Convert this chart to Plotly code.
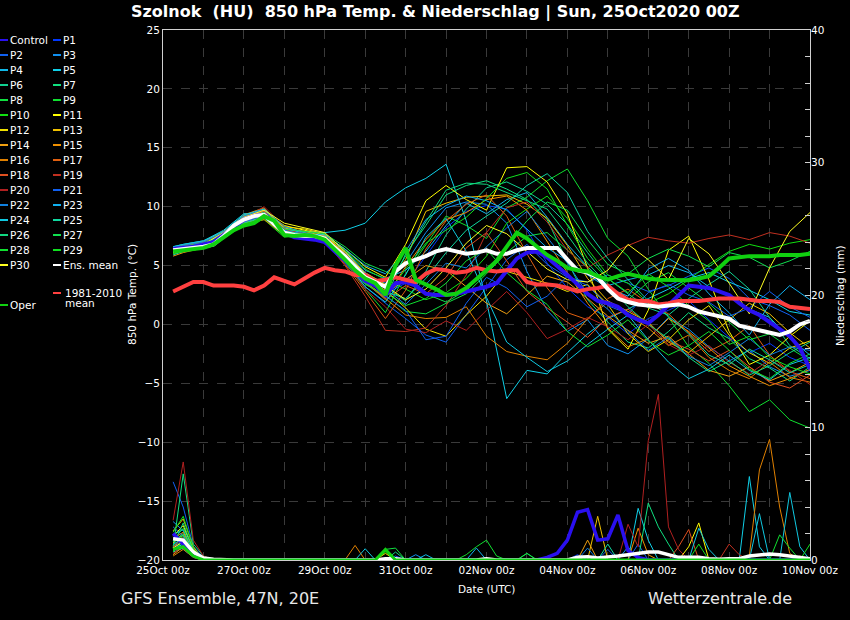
import datetime as dt
import plotly.graph_objects as go

# ---------------- data ----------------
BASE = dt.datetime(2020, 10, 25, 0)
HOURS_6 = list(range(6, 385, 6))                 # 64 steps for key curves & precipitation
HOURS_M = [6] + list(range(12, 385, 12))          # 33 steps for ensemble members (temperature)

MEMBER_NAMES = [f"P{i}" for i in range(1, 31)]
MEMBER_COLORS = ["#0038ff", "#1060f0", "#1090f0", "#10b8e8", "#10d0e8", "#10d090", "#10e080",
                 "#10e040", "#10e030", "#10e010", "#ffff00", "#f0e000", "#f0c000", "#f0a010",
                 "#f09000", "#e08000", "#e06010", "#e05020", "#c03020", "#b02020", "#1060f0",
                 "#1080e0", "#10b0f0", "#10c8e0", "#10d8a0", "#10d880", "#10e050", "#10e030",
                 "#10e020", "#ffff20"]

T_MEMBERS = [
    [6.2,6.5,6.9,7.8,9.1,9.5,7.6,7.4,7.2,5.6,3.8, 2.6,3.5,5.8,8.2,9.6,10.1,9.8,8.0,5.2,3.1,1.5,0.6,-0.8,0.5,1.2,2.0,0.4,-1.1,-2.4,-1.6,-2.8,-3.5],
    [6.0,6.3,6.6,7.5,8.8,9.4,7.9,7.6,7.0,5.2,3.2, 1.8,0.5,-0.9,-1.5,0.8,3.2,5.5,6.8,5.1,4.0,3.6,4.2,3.5,2.8,3.3,4.1,4.8,3.9,2.2,1.6,0.8,-0.5],
    [6.5,6.6,6.8,7.7,9.2,9.8,8.2,7.7,7.4,5.9,4.3, 3.5,5.2,7.8,9.9,10.4,10.2,8.6,4.5,1.2,-0.6,0.4,-1.8,-2.5,-1.2,0.6,-0.4,-1.9,-3.1,-2.2,-3.6,-4.4,-3.9],
    [6.4,6.7,7.0,7.9,9.0,9.6,8.1,7.8,7.5,6.2,4.6, 3.9,4.6,6.2,8.4,10.3,9.4,10.6,11.2,9.1,6.8,4.9,3.3,3.8,4.2,5.0,4.4,3.2,2.4,1.3,0.6,-1.2,-2.6],
    [6.6,6.8,7.1,8.0,9.4,9.5,8.0,7.9,7.8,8.0,8.6, 10.4,11.6,12.4,13.6,8.8,2.0,-6.3,-3.9,-4.2,-2.4,-0.8,0.5,1.3,2.2,3.0,3.9,4.4,3.6,2.9,2.1,1.1,0.8],
    [6.1,6.4,6.8,7.6,8.8,9.2,7.7,7.5,7.4,6.0,4.2, 3.2,2.0,4.5,7.6,9.8,11.6,12.1,11.3,10.2,8.5,6.1,3.9,2.6,1.4,0.8,2.2,3.4,4.5,3.0,0.6,-1.8,-2.9],
    [6.3,6.5,6.7,7.5,8.7,9.1,7.9,7.6,7.3,5.5,3.5, 2.2,6.0,8.4,11.0,11.8,12.2,11.5,10.6,8.9,5.3,2.1,0.2,-1.5,-2.0,-0.6,1.0,-0.3,-1.2,-2.9,-3.7,-4.8,-3.6],
    [6.2,6.4,6.6,7.4,8.6,9.0,7.5,7.6,7.2,5.4,3.4, 2.5,1.1,0.9,1.8,2.6,4.3,6.1,7.5,7.8,6.3,4.9,3.0,2.1,3.6,4.4,3.1,1.8,0.2,-1.3,-0.8,-2.0,-3.1],
    [6.4,6.6,6.9,7.8,9.0,9.4,7.8,7.4,7.1,5.3,3.0, 1.0,4.3,6.7,9.2,8.4,7.3,9.9,10.8,12.2,13.2,10.5,7.3,5.8,3.0,0.6,-1.9,-3.3,-5.2,-7.4,-6.4,-8.1,-8.8],
    [6.0,6.2,6.5,7.3,8.5,8.9,7.4,7.7,7.6,6.3,4.7, 3.8,3.0,2.1,2.7,3.9,5.8,8.6,9.8,10.9,9.0,6.4,4.2,3.5,1.8,2.6,3.8,5.1,6.2,6.8,6.4,6.9,7.2],
    [6.2,6.5,6.8,7.7,8.9,9.6,8.4,8.0,7.6,6.4,4.9, 4.0,6.8,10.5,11.8,10.6,9.7,13.3,13.4,12.1,9.4,4.8,-0.4,-2.1,1.2,6.3,7.5,3.8,-0.6,-3.4,-2.6,-1.0,0.3],
    [6.0,6.2,6.6,7.5,8.7,9.2,8.3,8.1,7.7,6.0,3.9, 2.9,1.4,-0.4,-1.0,0.8,2.4,4.5,4.0,3.5,2.8,3.4,1.7,-0.8,-2.3,-1.3,0.4,1.6,-0.9,-2.4,-3.3,-2.0,-1.4],
    [6.5,6.7,7.0,7.9,9.2,9.7,8.2,7.9,7.5,6.1,4.4, 3.4,5.5,9.6,10.3,10.8,10.9,11.0,10.2,9.0,6.7,3.9,2.0,1.1,0.2,-1.5,-2.4,-1.0,0.4,1.8,0.9,-0.7,-2.0],
    [5.8,6.1,6.5,7.4,8.6,9.1,7.8,7.7,7.5,6.0,4.0, 2.6,3.8,5.0,4.6,3.2,1.8,0.9,2.5,4.1,3.6,2.2,0.7,-0.5,-1.6,-1.0,-2.5,-3.9,-4.4,-3.6,-4.8,-4.1,-3.2],
    [6.3,6.6,6.9,7.8,9.3,9.9,8.0,7.5,7.3,5.7,3.6, 2.3,4.9,7.2,8.9,9.5,10.6,10.9,9.7,7.0,4.4,1.8,-0.3,-1.9,-1.2,0.5,-0.6,-2.0,-3.5,-4.4,-5.2,-4.6,-3.8],
    [6.1,6.3,6.6,7.3,8.5,8.9,7.6,7.3,7.0,5.5,3.7, 2.2,0.8,0.5,0.6,1.5,-1.0,-2.3,-2.7,-3.0,-1.6,0.5,1.9,0.8,-0.3,-1.8,-0.9,-2.8,-3.9,-4.6,-3.2,-4.5,-4.9],
    [6.2,6.5,6.8,7.6,8.9,9.5,7.9,7.4,7.1,5.1,2.8, 0.5,2.9,6.4,8.8,10.2,11.0,9.2,6.0,3.1,1.0,0.4,2.2,3.0,1.8,0.9,-0.7,-2.3,-1.4,-0.1,-2.6,-4.0,-4.6],
    [6.4,6.6,6.9,7.9,9.1,9.6,8.1,7.6,7.2,5.6,3.6, 2.1,3.3,2.6,4.0,6.5,7.8,5.4,2.8,1.4,0.2,-1.1,0.6,1.3,0.1,-1.4,-2.1,-3.1,-2.2,-3.6,-4.9,-5.4,-4.3],
    [6.0,6.3,6.7,7.6,8.8,9.4,8.0,7.7,7.1,5.0,2.4, -0.5,-0.6,-0.3,1.6,4.2,7.8,9.9,10.4,8.7,6.3,4.8,5.9,6.7,7.4,7.1,6.9,7.3,7.6,7.2,7.8,7.5,6.9],
    [6.3,6.5,6.9,7.7,9.0,10.0,8.3,7.8,7.3,5.4,3.0, 1.5,-0.4,-0.7,0.3,-0.5,1.2,2.8,1.0,-1.2,-0.4,0.6,-0.2,-1.3,0.0,-1.7,-2.6,-1.8,-3.2,-4.2,-3.0,-3.9,-5.1],
    [6.1,6.3,6.7,7.5,8.7,9.2,7.6,7.3,7.0,5.7,3.9, 2.4,1.2,-1.3,-1.0,1.8,4.0,3.1,1.5,2.4,4.1,3.3,1.6,0.9,2.7,3.4,2.5,1.9,0.7,1.4,2.8,1.5,0.6],
    [6.5,6.7,7.0,7.8,9.2,9.7,8.0,7.6,7.2,6.0,4.4, 3.0,1.7,3.4,5.2,4.8,6.6,8.2,9.6,7.4,5.2,2.6,1.3,-0.6,-2.2,-1.1,-2.7,-3.5,-2.4,-1.2,-2.6,-1.9,-2.2],
    [6.2,6.5,6.8,7.7,9.0,9.5,7.9,7.7,7.6,6.4,5.0, 4.3,6.2,8.9,10.1,10.9,10.5,9.7,8.1,6.5,5.4,4.2,3.1,2.4,4.7,5.6,4.6,2.6,1.0,-0.9,1.7,3.3,2.1],
    [6.6,6.8,7.1,7.9,9.3,9.8,8.3,7.8,7.2,5.5,3.2, 1.9,4.2,7.4,9.0,6.2,2.3,-1.5,-2.8,-4.0,-3.1,-1.7,-0.4,0.8,-1.3,-3.2,-4.6,-3.8,-2.6,-3.9,-4.7,-3.4,-2.8],
    [5.9,6.2,6.6,7.4,8.6,9.1,7.7,7.5,7.2,5.8,3.8, 2.8,2.2,3.9,6.1,8.0,9.2,10.3,11.8,12.8,11.2,7.9,5.6,3.8,2.0,0.7,-0.8,-2.6,-3.4,-2.1,-3.0,-4.1,-3.4],
    [6.3,6.5,6.8,7.6,8.8,9.3,7.8,7.5,7.3,5.9,4.1, 3.1,5.8,8.7,11.4,12.0,11.9,11.2,10.5,9.8,7.6,5.2,3.4,1.5,0.0,-1.2,-2.8,-4.0,-3.1,-4.3,-3.5,-2.4,-1.5],
    [6.4,6.6,6.9,7.7,9.0,9.4,8.1,7.9,7.7,6.6,5.2, 4.5,3.7,2.6,1.9,2.9,4.5,6.7,8.8,10.4,9.7,7.2,5.1,4.3,5.6,6.4,5.8,4.9,6.1,5.7,4.8,5.4,6.2],
    [6.2,6.4,6.7,7.5,8.8,9.3,7.7,7.6,7.4,5.9,3.9, 2.7,1.6,2.2,3.5,5.4,6.4,4.4,2.9,1.7,-0.6,-1.9,-0.9,0.4,-1.4,-2.6,-1.8,-0.6,-2.2,-3.8,-4.6,-3.3,-2.5],
    [6.0,6.3,6.7,7.6,8.9,9.5,7.9,7.6,7.2,5.6,3.5, 2.4,4.7,6.9,8.0,9.1,10.7,12.4,12.9,11.5,8.4,5.6,3.9,2.7,4.3,3.2,1.6,0.3,-1.7,-1.0,-2.8,-3.6,-4.2],
    [6.1,6.4,6.8,7.8,9.1,9.7,8.6,8.2,7.8,6.2,4.3, 3.3,2.1,3.0,4.8,6.9,8.4,7.7,6.2,4.7,3.8,3.6,4.6,6.8,5.5,3.8,7.3,6.0,3.5,0.9,4.8,7.9,9.5],
]

T_CONTROL = [6.4, 6.5, 6.6, 6.8, 7.0, 7.6, 8.3, 8.9,
             9.2, 9.3, 8.6, 7.8, 7.4, 7.3, 7.2, 7.0,
             6.2, 5.5, 4.6, 3.7, 3.3, 2.5, 3.5, 3.6,
             3.3, 2.6, 2.5, 2.5, 2.6, 2.8, 3.0, 3.2,
             3.5, 4.6, 5.6, 6.1, 6.2, 5.7, 5.0, 4.2,
             3.4, 2.6, 2.0, 1.8, 1.5, 0.8, 0.4, 0.1,
             0.8, 1.6, 2.5, 3.3, 3.2, 3.1, 2.8, 2.5,
             1.8, 1.2, 0.8, 0.2, -0.4, -1.0, -2.0, -3.8]
T_MEAN = [6.3, 6.4, 6.5, 6.6, 6.8, 7.5, 8.4, 8.9,
          9.2, 9.3, 8.5, 7.8, 7.6, 7.5, 7.5, 7.3,
          6.5, 5.8, 4.9, 4.0, 3.6, 3.2, 4.5, 5.2,
          5.5, 5.8, 6.2, 6.4, 6.2, 6.0, 6.1, 6.3,
          6.0, 6.0, 6.3, 6.5, 6.5, 6.5, 6.5, 5.5,
          4.6, 4.4, 4.0, 3.0, 2.2, 1.9, 1.7, 1.6,
          1.5, 1.6, 1.7, 1.5, 1.1, 0.9, 0.7, 0.5,
          -0.1, -0.3, -0.5, -0.7, -0.9, -0.6, 0.0, 0.3]
T_CLIMATE = [2.8, 3.2, 3.6, 3.6, 3.3, 3.3, 3.3, 3.2,
             2.9, 3.3, 4.0, 3.7, 3.4, 3.9, 4.4, 4.8,
             4.6, 4.5, 4.2, 4.2, 3.7, 3.8, 4.0, 3.8,
             3.6, 4.3, 4.7, 4.6, 4.4, 4.5, 4.8, 4.6,
             4.5, 4.6, 4.6, 3.6, 3.4, 3.4, 3.3, 3.1,
             2.8, 3.0, 3.1, 3.3, 2.6, 2.1, 2.0, 2.0,
             1.7, 1.8, 2.0, 2.0, 2.0, 2.1, 2.2, 2.2,
             2.2, 2.1, 2.0, 2.0, 1.9, 1.5, 1.4, 1.3]
T_OPER = [6.2, 6.3, 6.4, 6.5, 6.8, 7.4, 8.0, 8.4,
          8.6, 9.2, 8.8, 7.6, 7.5, 7.6, 7.5, 7.2,
          6.4, 5.5, 4.6, 3.9, 3.5, 2.5, 5.0, 6.5,
          3.8, 3.4, 3.0, 2.5, 2.6, 3.1, 3.8, 4.6,
          5.4, 6.6, 7.8, 7.3, 6.6, 5.9, 5.4, 4.8,
          4.6, 4.5, 4.1, 3.8, 4.1, 4.3, 4.1, 3.9,
          3.8, 3.8, 3.75, 3.75, 3.9, 4.1, 4.8, 5.6,
          5.7, 5.8, 5.8, 5.8, 5.9, 5.9, 5.9, 6.0]

# precipitation (mm / 6h) on HOURS_6
P_MEMBERS = [
    [1.2,0.8,0.2,0,0,0,0,0,0,0,0,0,0,0,0,0, 0,0,0,0,0,0,0,0,0,0,0,0,0,0,0,0, 0,0,0,0,0,0,0,0,0.4,0,0,0,0,0,0,0, 0,0,0,0,0,0,0,0,0,0,0,0,0,0,0,0],
    [5.9,4.0,1.0,0.2,0,0,0,0,0,0,0,0,0,0,0,0, 0,0,0,0,0,0,0,0,0,0,0,0,0,0,0,0, 0,0,0,0,0,0,0,0,0,0,0,0.8,0,0,1.2,0, 0,0,0,0,0,0,0,0,0,0,0,0,0,0,0,0],
    [2.9,2.2,0.6,0,0,0,0,0,0,0,0,0,0,0,0,0, 0,0,0,0,0,0,0,0,0.4,0,0,0,0,0,0,0, 0,0,0,0,0,0,0,0,0,0,0,0,0,1.0,0,0, 0,0,0,0,0,0,0,0,0,0,0,0,0,0,0,0],
    [1.0,1.5,0.5,0,0,0,0,0,0,0,0,0,0,0,0,0, 0,0,0,0,0,0,0,0,0,0.4,0,0,0,0,0,0, 0,0,0,0,0,0,0,0,0,0,0,0,0,0,0,0, 0,0,0,0,0,0,0,0,0,0,0,0,0,0,0,0],
    [0.6,0.9,0.3,0,0,0,0,0,0,0,0,0,0,0,0,0, 0,0,0,0,0,0,0,0,0,0,0,0,0,0,0,0, 0,0,0,0,0,0,0,0,0,0,0,0,0,0,3.9,1.5, 0,0,0,0,0,0,0,0,0,6.3,1.0,0,0,0,0,0],
    [1.4,2.0,0.4,0,0,0,0,0,0,0,0,0,0,0,0,0, 0,0,0,0,0,0,0,0,0,0,0,0,0,0,0,0, 0,0,0,0,0,0,0,0,0,0,0,0,0,0,0,0, 0,0,0,0,0,0,0,0,0,0,0,0,0,0,0,0],
    [0.9,6.5,1.2,0.3,0,0,0,0,0,0,0,0,0,0,0,0, 0,0,0,0,0,0,0,0,0,0,0,0,0,0,0,0, 0,0,0,0,0,0,0,0,0,0,0,0,0,0,0,4.3, 2.5,1.2,0,0,0,0,0,0,0,0,0,0,0,0,0,0],
    [0.7,1.3,0.5,0,0,0,0,0,0,0,0,0,0,0,0,0, 0,0,0,0,0,0.8,0.9,0,0,0,0,0,0,0,0,0, 0,0,0,0,0,0,0,0,0,0,0,0,0,0,0,0, 0,0,0,0,0,0,0,0,0,0,0,0,0,0,0,0],
    [1.1,1.8,0.6,0,0,0,0,0,0,0,0,0,0,0,0,0, 0,0,0,0,0,0,0,0,0,0,0,0,0,0.4,1.0,1.5, 0.3,0,0,0.5,0,0,0,0,0,0,0,0,0,0,0,0, 0,0,0,0,0,0,0,0,0,0,0,0,0,0,0,0],
    [1.5,2.4,0.9,0,0,0,0,0,0,0,0,0,0,0,0,0, 0,0,0,0,0,0.6,0,0,0,0,0,0,0,0,0,0, 0,0,0,0,0,0,0,0,0,0,0,0,0,0,0,0, 0,0,0,0,0,0,0,0,0,0,0,0,0,0,0,0],
    [1.8,2.6,0.8,0,0,0,0,0,0,0,0,0,0,0,0,0, 0,0,0,0,0,0,0,0,0,0,0,0,0,0,0,0, 0,0,0,0,0,0,0,0,0,0,0,0,0,0,0,0, 0,0,0,1.0,2.8,0,0,0,0,0,0,0,0,0,0,0],
    [1.3,1.9,0.5,0,0,0,0,0,0,0,0,0,0,0,0,0, 0,0,0,0,0,0.5,0,0,0,0,0,0,0,0,0,0, 0,0,0,0,0,0,0,0,0,0,0,0,0,0,0,0, 0,0,0,0,0,0,0,0,0,0,0,0,0,0,0,0],
    [2.2,3.1,1.0,0,0,0,0,0,0,0,0,0,0,0,0,0, 0,0,0,0,0,0,0,0,0,0,0,0,0,0,0,0, 0,0,0,0,0,0,0,0,0,0,3.3,0,0,0,0,0, 0,0,0,0,0,0,0,0,0,0,0,0,0,0,0,0],
    [0.4,1.0,0.3,0,0,0,0,0,0,0,0,0,0,0,0,0, 0,0,0,0,0,0,0,0,0,0,0,0,0,0,0,0, 0,0,0,0,0,0,0,0,0,1.5,0,0,0,0,0,0, 0,0,0,0,0,0,0,0,0,0,0,0,0,0,0,0],
    [1.6,2.1,0.7,0,0,0,0,0,0,0,0,0,0,0,0,0, 0,0,0,0,0,0,0,0,0,0,0,0,0,0,0,0, 0,0,0,0,0,0,0,0,0,0,0,0,0,0,2.4,0.4, 0,0,0,0,0,0,0,0,0,0,0,0,0,0,0,0],
    [0.3,0.8,0.2,0,0,0,0,0,0,0,0,0,0,0,0,0, 0,0,1.1,0,0,0,0,0,0,0,0,0,0,0,0,0, 0,0,0,0,0,0,0,0,0,0,0,0,0,0,0,0, 0,0,0,0,0,0,0,0,0,0.3,6.8,9.1,4.0,0.5,0,0],
    [0.9,1.4,0.3,0,0,0,0,0,0,0,0,0,0,0,0,0, 0,0,0,0,0,0,0,0,0,0,0,0,0,0,0,0, 0,0,0,0,0,0,0,0,0,0,0,0,0,0,0,0, 0,0,0,0,0,0,0,0,0,0,0,0,0,0,0.3,0],
    [1.0,1.7,0.4,0,0,0,0,0,0,0,0,0,0,0,0,0, 0,0,0,0,0,0,0,0,0,0,0,0,0,0,0,0, 0,0,0,0,0,0,0,0,0,0,0,0,0,0,0,0, 0,0,1.0,2.3,0,0,0,0,0,0,0,0,0,0,0,0],
    [0.5,1.1,0.2,0,0,0,0,0,0,0,0,0,0,0,0,0, 0,0,0,0,0,0,0,0,0,0,0,0,0,0,0,0, 0,0,0,0,0,0,0,0,0,0,0,0,0,0,0,0, 0,0,0,0,0,0,0,1.2,0.4,0,0,0,0,0,0,0],
    [3.0,7.4,1.5,0.3,0,0,0,0,0,0,0,0,0,0,0,0, 0,0,0,0,0,0,0,0,0,0,0,0,0,0,0,0, 0,0,0,0,0,0,0,0,0,0,0,0,0,2.7,1.0,9.0, 12.5,2.5,0.8,0,0,0,0,0,0,0,0,0,0,0,0,0],
    [1.7,1.2,0.3,0,0,0,0,0,0,0,0,0,0,0,0,0, 0,0,0,0,0,0,0.3,0,0,0,0,0,0,0,0,0, 0,0,0,0,0,0,0,0,0,0,0,0,0,0,0,0, 0,0,0,0,0,0,0,0,0,0,0,0,0,0,0,0],
    [2.5,1.8,0.5,0,0,0,0,0,0,0,0,0,0,0,0,0, 0,0,0,0,0,0,0,0,0,0,0,0,0,0,0,0, 0,0,0,0,0,0,0,0,0,0.9,0,0,0,0,0,0, 0,0,0,0,0,0,0,0,0,0,0,0,0,0,0,0],
    [1.2,1.6,0.4,0,0,0,0,0,0,0,0,0,0,0,0,0, 0,0,0,0,0,0,0,0,0,0,0,0,0,0,0.9,0, 0,0,0,0,0,0,0,0,0,0,0,0,0,0,0,0, 0,0,0,0,0,0,0,0,0,0,0,0,0,0,0,0],
    [0.8,1.2,0.4,0,0,0,0,0,0,0,0,0,0,0,0,0, 0,0,0,0.85,0,0,0,0,0,0,0,0,0,0,0,0, 0,0,0,0,0,0,0,0,0,0,0,0,0,0,0,0, 0,0,0,0,2.4,0.8,0,0,0,0,3.5,0,0,5.1,1.0,0],
    [1.9,2.3,0.6,0,0,0,0,0,0,0,0,0,0,0,0,0, 0,0,0,0,0,0,0,0,0,0,0,0,0,0,0,0, 0,0,0,0,0,0,0,0,0,0,0,1.2,0,0,0,0, 0,0,0,0,0,0,0,0,0,0,0,0,0,0,0,0],
    [1.1,2.8,0.7,0,0,0,0,0,0,0,0,0,0,0,0,0, 0,0,0,0,0,0,0.6,0,0,0,0,0,0,0,0,0, 0,0,0,0,0,0,0,0,0,0,0,0,0,0,0,0, 0,0,0,0,0,0,0,0,0,0,0,0,0,0,0,0],
    [1.4,1.9,0.6,0,0,0,0,0,0,0,0,0,0,0,0,0, 0,0,0,0,0,0,0,0,0,0,0,0,0,0,0,0, 0,0,0,0.5,0,0,0,0,0,0,0,0,0,0,0,0, 0,0,0,0,0,0,0,0,0,0,0,0,0,0,0,0],
    [0.6,1.5,0.5,0,0,0,0,0,0,0,0,0,0,0,0,0, 0,0,0,0,0,0,0,0,0,0,0,0,0,0,0,0, 0,0,0,0,0,0,0,0,0,0,0,0,0,0,0,0, 0,0,0,0,0,0,0,0,0,0,0,0,1.9,0.9,0,0],
    [2.1,3.3,0.9,0,0,0,0,0,0,0,0,0,0,0,0,0, 0,0,0,0,0,0,0,0,0,0,0,0,0,0,0,0, 0,0,0,0,0,0,0,0,0,0,0,0,0,0,0,0, 0,0,0,0,1.2,0,0,0,0,0,0,0,0,0,0,1.2],
    [0.9,1.4,0.3,0,0,0,0,0,0,0,0,0,0,0,0,0, 0,0,0,0,0,0,0,0,0,0,0,0,0,0,0,0, 0,0,0,0,0,0,0,0,0,0.3,0,0,0,0,0,0, 0,0,0,0,0,0,0,0,0,0,0,0,0,0,0,0],
]
P_CONTROL = [2.0,1.2,0.4,0.1,0,0,0,0,0,0,0,0,0,0,0,0, 0,0,0,0,0,0,0,0,0,0,0,0,0,0,0,0,
             0,0,0,0,0,0.2,0.5,1.5,3.6,3.8,1.5,1.6,3.4,0.7,0.2,0, 0,0,0,0,0,0,0,0,0,0,0,0,0,0,0,0]
P_MEAN = [1.6,1.5,0.6,0.15,0.05,0,0,0,0,0,0,0,0,0,0,0, 0,0,0,0,0,0.1,0.1,0,0,0,0,0,0,0,0,0.1,
          0,0,0,0,0,0,0,0,0.2,0.25,0.15,0.2,0.3,0.4,0.5,0.6,
          0.6,0.4,0.2,0.2,0.2,0.1,0.05,0.1,0.1,0.3,0.4,0.45,0.4,0.3,0.15,0.1]
P_OPER = [0.8,1.0,0.3,0,0,0,0,0,0,0,0,0,0,0,0,0, 0,0,0,0,0,0.8,0,0,0,0,0,0,0,0,0,0,
          0,0,0,0,0,0,0,0,0,0,0,0,0,0,0,0, 0,0,0,0,0,0,0,0,0,0,0,0,0,0,0,0]

CONTROL_COLOR = "#2a10f0"
MEAN_COLOR = "#ffffff"
CLIMATE_COLOR = "#ff4040"
OPER_COLOR = "#10d010"

TITLE = "Szolnok  (HU)  850 hPa Temp. & Niederschlag | Sun, 25Oct2020 00Z"
FONT = "DejaVu Sans"

# ---------------- figure ----------------
T6 = [BASE + dt.timedelta(hours=h) for h in HOURS_6]
TM = [BASE + dt.timedelta(hours=h) for h in HOURS_M]

fig = go.Figure()

# precipitation (secondary axis)
for name, col, vals in zip(MEMBER_NAMES, MEMBER_COLORS, P_MEMBERS):
    fig.add_trace(go.Scatter(x=T6, y=vals, mode="lines", yaxis="y2",
                             line=dict(color=col, width=1), showlegend=False))
fig.add_trace(go.Scatter(x=T6, y=P_CONTROL, mode="lines", yaxis="y2",
                         line=dict(color=CONTROL_COLOR, width=3.5), showlegend=False))
fig.add_trace(go.Scatter(x=T6, y=P_MEAN, mode="lines", yaxis="y2",
                         line=dict(color=MEAN_COLOR, width=3.5), showlegend=False))
fig.add_trace(go.Scatter(x=T6, y=P_OPER, mode="lines", yaxis="y2",
                         line=dict(color=OPER_COLOR, width=3), showlegend=False))

# temperature
for name, col, vals in zip(MEMBER_NAMES, MEMBER_COLORS, T_MEMBERS):
    fig.add_trace(go.Scatter(x=TM, y=vals, mode="lines", name=name,
                             line=dict(color=col, width=1), showlegend=False))
fig.add_trace(go.Scatter(x=T6, y=T_CONTROL, mode="lines", name="Control",
                         line=dict(color=CONTROL_COLOR, width=4), showlegend=False))
fig.add_trace(go.Scatter(x=T6, y=T_CLIMATE, mode="lines", name="1981-2010 mean",
                         line=dict(color=CLIMATE_COLOR, width=4), showlegend=False))
fig.add_trace(go.Scatter(x=T6, y=T_MEAN, mode="lines", name="Ens. mean",
                         line=dict(color=MEAN_COLOR, width=4), showlegend=False))
fig.add_trace(go.Scatter(x=T6, y=T_OPER, mode="lines", name="Oper",
                         line=dict(color=OPER_COLOR, width=4), showlegend=False))

# ---------------- layout ----------------
L, R, T, B = 163, 40, 30, 60
W, H = 850, 620
PW, PH = W - L - R, H - T - B


def px(xp):
    return (xp - L) / PW


def py(yp):
    return (H - B - yp) / PH


GRID = "#3a3a3a"
AXIS = "#d0d0d0"
TXT = "#ffffff"

fig.update_layout(
    width=W, height=H,
    margin=dict(l=L, r=R, t=T, b=B),
    paper_bgcolor="#000000", plot_bgcolor="#000000",
    font=dict(family=FONT, color=TXT, size=10.5),
    showlegend=False,
    xaxis=dict(
        type="date",
        range=[BASE, BASE + dt.timedelta(hours=384)],
        dtick=2 * 86400000, tick0=BASE, tickformat="%d%b %Hz",
        showgrid=True, gridcolor=GRID, griddash="dash", gridwidth=1,
        minor=dict(dtick=86400000, tick0=BASE, showgrid=True, gridcolor=GRID, griddash="dash"),
        showline=True, linecolor=AXIS, linewidth=1, mirror=True,
        ticks="", tickfont=dict(size=10.5, color=TXT), zeroline=False,
    ),
    yaxis=dict(
        range=[-20, 25], dtick=5, tick0=-20,
        showgrid=True, gridcolor=GRID, griddash="dash", gridwidth=1,
        showline=True, linecolor=AXIS, linewidth=1, mirror=True,
        ticks="", tickfont=dict(size=10.5, color=TXT), zeroline=False,
    ),
    yaxis2=dict(
        overlaying="y", side="right", range=[0, 40], dtick=10, tick0=0,
        showgrid=False, zeroline=False, showline=False,
        ticks="inside", ticklen=5, tickcolor=AXIS,
        minor=dict(dtick=2, ticks="inside", ticklen=5, tickcolor=AXIS),
        tickfont=dict(size=10.5, color=TXT),
    ),
)


def label(xp, yp, text, size=10.5, xanchor="center", angle=0, color=TXT):
    return dict(x=px(xp), y=py(yp), xref="paper", yref="paper", text=text,
                showarrow=False, xanchor=xanchor, yanchor="middle", textangle=angle,
                font=dict(size=size, color=color, family=FONT))


ann = []
ann.append(label(435, 12, f"<b>{TITLE}</b>", size=16))
ann.append(label(486, 589, "Date (UTC)"))
ann.append(label(132, 295, "850 hPa Temp. (°C)", angle=-90))
ann.append(label(840, 295, "Niederschlag (mm)", angle=-90))
ann.append(label(119, 598, "GFS Ensemble, 47N, 20E", size=16, xanchor="left", color="#e8e8e8"))
ann.append(label(794, 598, "Wetterzentrale.de", size=16, xanchor="right", color="#e8e8e8"))

# manual two-column legend
shapes = []
legend_names = ["Control"] + MEMBER_NAMES + ["Ens. mean"]
legend_colors = [CONTROL_COLOR] + MEMBER_COLORS + [MEAN_COLOR]
for k, (nm, col) in enumerate(zip(legend_names, legend_colors)):
    row, c = divmod(k, 2)
    yrow = 40 + 15 * row
    x0 = 0 if c == 0 else 53
    shapes.append(dict(type="line", xref="paper", yref="paper",
                       x0=px(x0), x1=px(x0 + 8), y0=py(yrow), y1=py(yrow),
                       line=dict(color=col, width=2)))
    ann.append(label(x0 + 8, yrow, nm, xanchor="left"))
shapes.append(dict(type="line", xref="paper", yref="paper", x0=px(53), x1=px(61),
                   y0=py(293), y1=py(293), line=dict(color=CLIMATE_COLOR, width=2)))
ann.append(label(63, 293, "1981-2010", xanchor="left"))
ann.append(label(63, 303, "mean", xanchor="left"))
shapes.append(dict(type="line", xref="paper", yref="paper", x0=px(0), x1=px(8),
                   y0=py(305), y1=py(305), line=dict(color=OPER_COLOR, width=2)))
ann.append(label(8, 305, "Oper", xanchor="left"))

fig.update_layout(annotations=ann, shapes=shapes)

fig.write_html(
    "out.html",
    config={"displayModeBar": False},
    post_script="document.body.style.margin='0';document.body.style.background='#000';"
                "document.documentElement.style.background='#000';"
                "document.body.style.overflow='hidden';",
)
